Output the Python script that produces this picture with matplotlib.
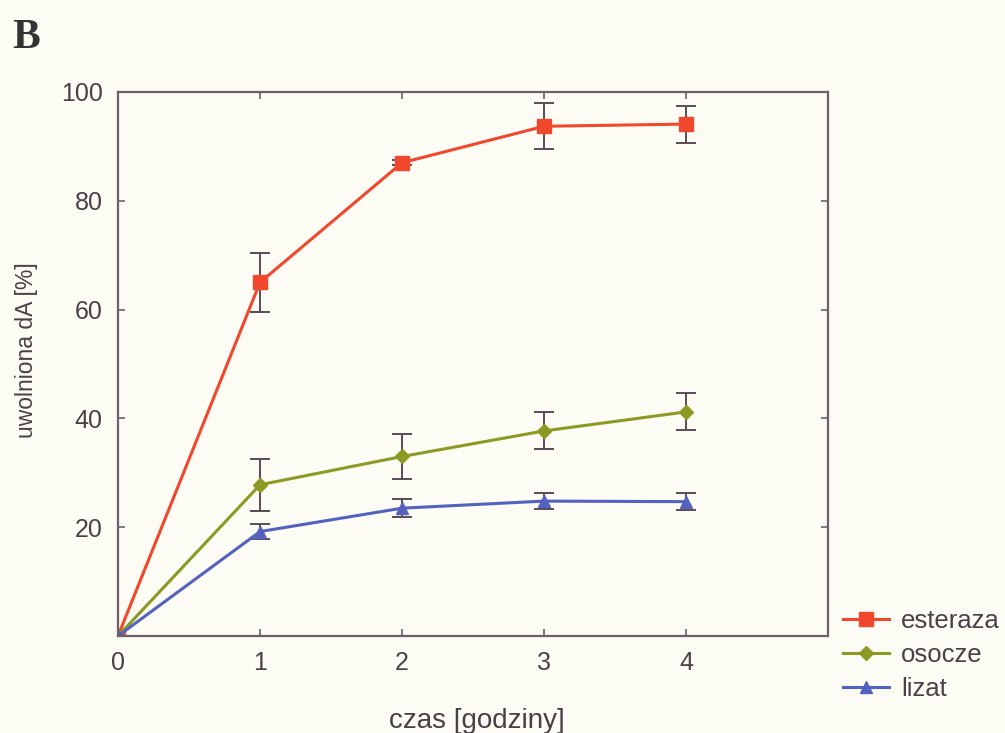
import numpy as np
import matplotlib.pyplot as plt

plt.rcParams['font.family'] = ['Liberation Sans', 'DejaVu Sans']

# czas [godziny]
czas = [0, 1, 2, 3, 4]

esteraza = [0, 65.0, 87.0, 93.7, 94.1]
esteraza_err = [0, 5.4, 0.5, 4.2, 3.4]

osocze = [0, 27.8, 33.0, 37.7, 41.2]
osocze_err = [0, 4.8, 4.2, 3.4, 3.4]

lizat = [0, 19.2, 23.5, 24.8, 24.7]
lizat_err = [0, 1.3, 1.6, 1.5, 1.5]

bg = '#fcfcf4'
frame = '#6e5f6a'
txt = '#4a4048'

fig = plt.figure(figsize=(10.05, 7.33), dpi=100, facecolor=bg)
ax = fig.add_axes([0.1174, 0.1323, 0.7066, 0.7422], facecolor=bg)

series = [
    ('esteraza', esteraza, esteraza_err, '#f0482c', 's', 10),
    ('osocze', osocze, osocze_err, '#8c9a24', 'D', 7.5),
    ('lizat', lizat, lizat_err, '#5462bf', '^', 8),
]
lines = []
for name, y, e, c, m, ms in series:
    eb = ax.errorbar(czas, y, yerr=e, color=c, lw=2.2, marker=m, ms=ms,
                     mec=c, mfc=c, ecolor='#5a4c56', elinewidth=1.4,
                     capsize=7.5, capthick=1.4, label=name)
    lines.append(eb[0])

ax.set_xlim(0, 5)
ax.set_ylim(0, 100)
ax.set_xticks([0, 1, 2, 3, 4])
ax.set_yticks([20, 40, 60, 80, 100])
ax.tick_params(direction='in', length=5, width=1.2, color=frame,
               labelsize=18, labelcolor=txt, top=True, right=True, pad=11)
for s in ax.spines.values():
    s.set_color(frame)
    s.set_linewidth(1.6)

ax.set_xlabel('czas [godziny]', fontsize=20, color=txt)
ax.xaxis.set_label_coords(0.506, -0.133)
ax.set_ylabel('uwolniona dA [%]', fontsize=16.5, color=txt)
ax.yaxis.set_label_coords(-0.113, 0.526)

fig.text(0.012, 0.935, 'B', fontsize=30, fontweight='bold',
         family='Liberation Serif', color='#333333')

fig.legend(lines, [s[0] for s in series], loc='lower left',
           bbox_to_anchor=(0.839, 0.044), frameon=False,
           fontsize=18.5, labelcolor=txt, handlelength=1.8, handletextpad=0.45,
           labelspacing=0.38, borderpad=0, borderaxespad=0)

plt.savefig('out.png', dpi=100, facecolor=bg)
